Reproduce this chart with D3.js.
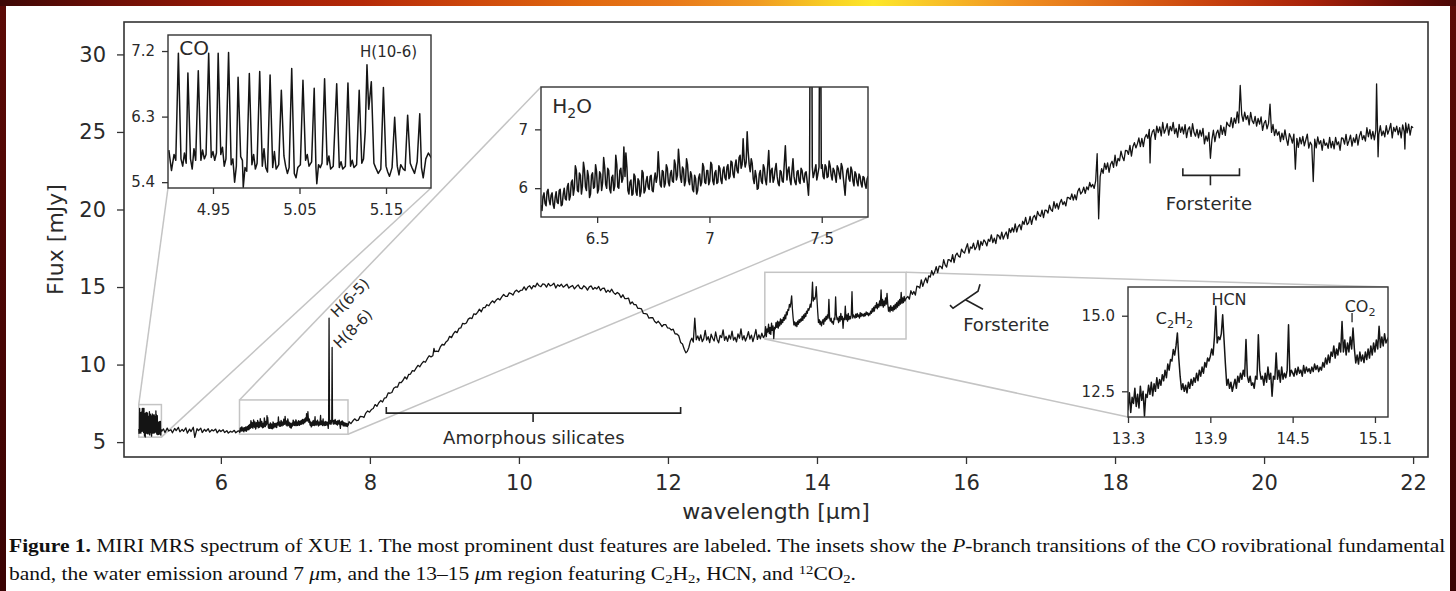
<!DOCTYPE html>
<html><head><meta charset="utf-8">
<script src="https://cdn.jsdelivr.net/npm/d3@7"></script>
<style>body{margin:0;background:#fff;}svg{display:block;}</style>
</head><body>
<svg id="chart" width="1456" height="591"></svg>
<script>
// ---------------- DATA ----------------
// spectrum pieces: [wavelength (um), flux (mJy)]
const coBand = [
[4.899,5.84],[4.902,5.56],[4.905,5.78],[4.907,5.70],[4.910,7.17],[4.913,5.72],[4.915,5.62],[4.917,5.80],[4.919,5.66],[4.921,6.90],
[4.924,5.72],[4.926,5.58],[4.928,5.86],[4.930,5.70],[4.933,6.93],[4.936,5.70],[4.938,5.84],[4.940,5.72],[4.942,5.78],[4.945,7.17],
[4.948,5.74],[4.950,5.82],[4.952,5.70],[4.954,5.80],[4.956,7.17],[4.959,5.78],[4.961,5.88],[4.963,5.62],[4.965,5.72],[4.968,7.18],
[4.971,5.64],[4.973,5.72],[4.975,5.40],[4.977,5.62],[4.979,6.84],[4.982,5.75],[4.984,5.70],[4.985,5.33],[4.987,5.60],[4.989,5.55],
[4.992,6.89],[4.995,5.64],[4.997,5.78],[4.999,5.58],[5.001,5.66],[5.004,6.92],[5.007,5.62],[5.009,5.86],[5.011,5.60],[5.013,5.54],
[5.016,6.87],[5.019,5.60],[5.021,5.82],[5.023,5.58],[5.026,5.64],[5.029,6.66],[5.032,5.76],[5.034,5.62],[5.036,5.52],[5.038,5.60],
[5.041,6.96],[5.044,5.52],[5.046,5.46],[5.048,5.60],[5.051,5.64],[5.054,6.80],[5.057,5.70],[5.059,5.78],[5.061,5.62],[5.064,5.68],
[5.067,6.69],[5.069,5.60],[5.070,5.38],[5.072,5.64],[5.074,5.60],[5.076,5.66],[5.079,6.82],[5.082,5.64],[5.084,5.76],[5.086,5.58],
[5.089,5.62],[5.093,6.75],[5.096,5.60],[5.098,5.68],[5.100,5.58],[5.103,5.62],[5.106,6.76],[5.109,5.62],[5.111,5.70],[5.113,5.60],
[5.116,5.64],[5.119,6.66],[5.122,5.66],[5.124,5.72],[5.126,6.10],[5.128,7.01],[5.130,6.40],[5.133,6.78],[5.136,5.66],[5.138,5.60],
[5.141,5.52],[5.144,5.58],[5.147,6.70],[5.150,5.62],[5.152,5.54],[5.154,5.48],[5.157,5.60],[5.160,6.29],[5.163,5.62],[5.165,5.50],
[5.167,5.64],[5.170,5.58],[5.172,5.56],[5.175,6.32],[5.178,5.66],[5.180,5.60],[5.183,5.52],[5.186,5.68],[5.189,6.34],[5.191,5.60],
[5.193,5.46],[5.196,5.72],[5.199,5.80],[5.202,5.74]];

const shortContinuum = [
[5.205,5.70],[5.23,5.85],[5.25,5.62],[5.28,5.90],[5.30,5.72],[5.33,5.80],[5.35,5.60],[5.38,5.88],[5.40,5.74],[5.43,5.95],
[5.45,5.66],[5.48,5.82],[5.50,5.70],[5.53,5.92],[5.55,5.58],[5.58,5.84],[5.60,5.68],[5.63,5.96],[5.65,5.30],[5.68,5.86],
[5.70,5.74],[5.73,5.90],[5.75,5.62],[5.78,5.82],[5.80,5.70],[5.83,5.86],[5.85,5.64],[5.88,5.80],[5.90,5.72],[5.93,5.84],
[5.95,5.60],[5.98,5.78],[6.00,5.68],[6.03,5.80],[6.05,5.62],[6.08,5.74],[6.10,5.58],[6.13,5.70],[6.15,5.64],[6.18,5.76],
[6.20,5.60],[6.23,5.72]];

const waterBand = [
[6.250,5.70],[6.259,5.86],[6.268,5.74],[6.277,5.94],[6.286,5.80],[6.295,5.88],[6.304,5.72],[6.313,5.84],[6.322,5.76],[6.331,5.96],
[6.340,5.70],[6.349,5.90],[6.358,5.82],[6.367,6.02],[6.376,5.80],[6.385,6.10],[6.394,5.88],[6.403,6.38],[6.412,5.96],[6.421,6.26],
[6.430,5.90],[6.439,6.44],[6.448,6.02],[6.457,6.30],[6.466,5.84],[6.475,6.22],[6.484,6.00],[6.493,6.40],[6.502,5.92],[6.511,6.28],
[6.520,5.96],[6.529,6.52],[6.538,6.06],[6.547,6.34],[6.556,5.98],[6.565,6.18],[6.574,5.96],[6.583,6.56],[6.592,6.02],[6.601,6.30],
[6.610,6.10],[6.619,6.70],[6.624,6.20],[6.628,6.60],[6.637,5.96],[6.646,6.10],[6.655,5.88],[6.664,6.24],[6.673,5.94],[6.682,6.16],
[6.691,5.86],[6.700,6.30],[6.709,5.92],[6.718,6.12],[6.727,6.02],[6.736,6.20],[6.745,5.96],[6.754,6.14],[6.763,6.10],[6.772,6.62],
[6.781,6.06],[6.790,6.30],[6.799,6.02],[6.808,6.40],[6.817,6.10],[6.826,6.24],[6.835,6.12],[6.844,6.48],[6.853,6.14],[6.862,6.66],
[6.871,6.18],[6.880,6.36],[6.889,6.04],[6.898,6.50],[6.907,6.12],[6.916,6.28],[6.925,5.98],[6.934,6.22],[6.943,5.90],[6.952,6.18],
[6.961,6.04],[6.970,6.42],[6.979,6.10],[6.988,6.30],[6.997,6.06],[7.006,6.44],[7.015,6.12],[7.024,6.26],[7.033,6.08],[7.042,6.38],
[7.051,6.14],[7.060,6.30],[7.069,6.18],[7.078,6.36],[7.087,6.16],[7.096,6.46],[7.105,6.24],[7.114,6.38],[7.123,6.30],[7.132,6.52],
[7.141,6.34],[7.150,6.84],[7.159,6.36],[7.168,6.96],[7.177,6.40],[7.186,6.50],[7.195,6.16],[7.204,6.30],[7.213,5.98],[7.222,6.24],
[7.231,6.12],[7.240,6.40],[7.249,6.14],[7.258,6.30],[7.264,6.64],[7.270,6.10],[7.279,6.34],[7.288,6.16],[7.297,6.42],[7.306,6.08],
[7.315,6.30],[7.324,6.12],[7.333,6.40],[7.338,6.72],[7.345,6.14],[7.354,6.36],[7.363,6.06],[7.372,6.50],[7.381,6.10],[7.390,6.28],
[7.399,6.12],[7.408,6.34],[7.417,6.16],[7.426,6.26],[7.435,6.12],[7.441,5.88],[7.446,6.30],[7.452,13.00],[7.458,6.36],[7.466,6.24],
[7.474,6.40],[7.482,6.22],[7.488,6.36],[7.493,11.10],[7.498,6.34],[7.506,6.20],[7.515,6.40],[7.524,6.18],[7.533,6.46],[7.542,6.22],
[7.551,6.34],[7.560,6.20],[7.569,6.38],[7.578,6.24],[7.587,6.42],[7.596,6.18],[7.604,5.88],[7.612,6.30],[7.621,6.16],[7.630,6.36],
[7.639,6.12],[7.648,6.28],[7.657,6.10],[7.666,6.24],[7.675,6.08],[7.684,6.20],[7.693,6.06],[7.702,6.16],[7.711,6.10]];

const waterFine = [
[6.2545,5.62],[6.2635,5.92],[6.2725,5.70],[6.2815,5.98],[6.2905,5.72],[6.2995,5.92],[6.3085,5.66],[6.3175,5.94],[6.3265,5.74],[6.3355,5.98],
[6.3445,5.72],[6.3535,6.00],[6.3625,5.80],[6.3715,6.08],[6.3805,5.86],[6.3895,6.14],[6.3985,6.00],[6.4075,6.30],[6.4165,5.94],[6.4255,6.22],
[6.4345,6.04],[6.4435,6.32],[6.4525,5.96],[6.4615,6.20],[6.4705,5.90],[6.4795,6.26],[6.4885,6.02],[6.4975,6.28],[6.5065,5.98],[6.5155,6.24],
[6.5245,6.10],[6.5335,6.36],[6.5425,6.00],[6.5515,6.30],[6.5605,5.92],[6.5695,6.22],[6.5785,6.04],[6.5875,6.40],[6.5965,6.00],[6.6055,6.34],
[6.6145,6.16],[6.6325,6.36],[6.6415,5.90],[6.6505,6.14],[6.6595,5.90],[6.6685,6.20],[6.6775,5.88],[6.6865,6.12],[6.6955,5.94],[6.7045,6.26],
[6.7135,5.96],[6.7225,6.20],[6.7315,5.98],[6.7405,6.22],[6.7495,5.94],[6.7585,6.26],[6.7675,6.20],[6.7765,6.30],[6.7855,6.02],[6.7945,6.28],
[6.8035,6.08],[6.8125,6.34],[6.8215,6.04],[6.8305,6.30],[6.8395,6.10],[6.8485,6.40],[6.8575,6.22],[6.8665,6.44],[6.8755,6.10],[6.8845,6.32],
[6.8935,6.12],[6.9025,6.40],[6.9115,6.06],[6.9205,6.22],[6.9295,5.94],[6.9385,6.16],[6.9475,5.96],[6.9565,6.24],[6.9655,6.10],[6.9745,6.36],
[6.9835,6.08],[6.9925,6.30],[7.0015,6.12],[7.0105,6.40],[7.0195,6.06],[7.0285,6.30],[7.0375,6.10],[7.0465,6.34],[7.0555,6.08],[7.0645,6.36],
[7.0735,6.14],[7.0825,6.40],[7.0915,6.20],[7.1005,6.44],[7.1095,6.18],[7.1185,6.48],[7.1275,6.26],[7.1365,6.56],[7.1455,6.40],[7.1545,6.50],
[7.1635,6.44],[7.1725,6.62],[7.1815,6.28],[7.1905,6.42],[7.1995,6.08],[7.2085,6.20],[7.2175,6.00],[7.2265,6.30],[7.2355,6.08],[7.2445,6.34],
[7.2535,6.06],[7.2745,6.30],[7.2835,6.10],[7.2925,6.32],[7.3015,6.20],[7.3105,6.04],[7.3195,6.28],[7.3285,6.10],[7.3495,6.30],[7.3585,6.14],
[7.3675,6.30],[7.3765,6.20],[7.3855,6.06],[7.3945,6.30],[7.4035,6.08],[7.4125,6.30],[7.4215,6.10],[7.4305,6.28],[7.4620,6.18],[7.4700,6.32],
[7.4780,6.14],[7.5020,6.40],[7.5105,6.16],[7.5195,6.36],[7.5285,6.20],[7.5375,6.38],[7.5465,6.14],[7.5555,6.30],[7.5645,6.10],[7.5735,6.34],
[7.5825,6.16],[7.5915,6.36],[7.6080,6.14],[7.6165,6.34],[7.6255,6.12],[7.6345,6.30],[7.6435,6.04],[7.6525,6.24],[7.6615,6.04],[7.6705,6.20],
[7.6795,6.02],[7.6885,6.18],[7.6975,6.00],[7.7065,6.20]];

const silicateBand = [
[7.720,6.32],[7.745,6.19],[7.770,6.36],[7.795,6.50],[7.820,6.39],[7.845,6.42],[7.870,6.66],[7.895,6.65],[7.920,6.59],[7.945,6.87],
[7.970,7.01],[7.995,6.93],[8.020,7.10],[8.045,7.17],[8.070,7.42],[8.095,7.31],[8.120,7.54],[8.145,7.68],[8.170,7.59],[8.195,7.84],
[8.220,7.87],[8.245,8.17],[8.270,8.15],[8.295,8.20],[8.320,8.47],[8.345,8.56],[8.370,8.54],[8.395,8.85],[8.420,8.83],[8.445,8.99],
[8.470,9.21],[8.495,9.07],[8.520,9.36],[8.545,9.39],[8.570,9.61],[8.595,9.57],[8.620,9.77],[8.645,9.95],[8.670,9.86],[8.695,10.06],
[8.720,10.20],[8.745,10.15],[8.770,10.38],[8.795,10.57],[8.820,10.50],[8.845,10.57],[8.860,11.05],[8.870,10.84],[8.895,10.87],[8.920,10.84],
[8.945,11.14],[8.970,11.31],[8.995,11.26],[9.020,11.45],[9.045,11.55],[9.070,11.82],[9.095,11.74],[9.120,11.98],[9.145,12.14],[9.170,12.06],
[9.195,12.33],[9.220,12.36],[9.245,12.66],[9.270,12.63],[9.295,12.68],[9.320,12.93],[9.345,13.01],[9.370,12.97],[9.395,13.27],[9.420,13.23],
[9.445,13.37],[9.470,13.57],[9.495,13.40],[9.520,13.67],[9.545,13.67],[9.570,13.86],[9.595,13.79],[9.620,13.97],[9.645,14.11],[9.670,13.99],
[9.695,14.16],[9.720,14.26],[9.745,14.17],[9.770,14.36],[9.795,14.52],[9.820,14.40],[9.845,14.40],[9.870,14.62],[9.895,14.58],[9.920,14.48],
[9.945,14.71],[9.970,14.80],[9.995,14.67],[10.020,14.78],[10.045,14.80],[10.070,15.01],[10.095,14.80],[10.120,15.00],[10.145,15.08],[10.170,14.88],
[10.195,15.09],[10.220,15.01],[10.245,15.25],[10.270,15.08],[10.295,15.02],[10.320,15.20],[10.345,15.17],[10.370,14.99],[10.395,15.23],[10.420,15.07],
[10.445,15.13],[10.470,15.25],[10.495,14.94],[10.520,15.15],[10.545,15.05],[10.570,15.18],[10.595,14.99],[10.620,15.09],[10.645,15.18],[10.670,14.93],
[10.695,15.03],[10.720,15.10],[10.745,14.88],[10.770,15.03],[10.795,15.14],[10.820,14.93],[10.845,14.88],[10.870,15.08],[10.895,14.99],[10.920,14.80],
[10.945,15.01],[10.970,15.07],[10.995,14.85],[11.020,14.97],[11.045,14.88],[11.070,15.04],[11.095,14.77],[11.120,14.91],[11.145,14.93],[11.170,14.66],
[11.195,14.80],[11.220,14.67],[11.245,14.86],[11.270,14.64],[11.295,14.53],[11.320,14.65],[11.345,14.56],[11.370,14.32],[11.395,14.50],[11.420,14.26],
[11.445,14.25],[11.470,14.29],[11.495,13.91],[11.520,14.04],[11.545,13.86],[11.570,13.87],[11.595,13.63],[11.620,13.63],[11.645,13.59],[11.670,13.30],
[11.695,13.28],[11.720,13.25],[11.745,12.99],[11.770,13.02],[11.795,13.03],[11.820,12.79],[11.845,12.68],[11.870,12.79],[11.895,12.64],[11.920,12.45],
[11.945,12.58],[11.970,12.58],[11.995,12.36],[12.020,12.35],[12.045,12.23],[12.070,12.28],[12.095,11.98],[12.120,11.97],[12.145,11.86],[12.170,11.43],
[12.195,11.33],[12.220,10.97],[12.240,10.76],[12.260,10.85],[12.280,11.10],[12.300,11.50]];

const dipToMolecular = [
[12.32,11.70],[12.34,11.45],[12.36,13.00],[12.38,11.60],[12.40,11.85],[12.42,11.55],[12.44,11.92],[12.46,11.48],[12.48,11.66],[12.50,12.20],
[12.52,11.58],[12.54,11.80],[12.56,11.42],[12.58,11.96],[12.60,11.70],[12.62,11.52],[12.64,12.10],[12.66,11.62],[12.68,11.40],[12.70,11.88],
[12.72,11.74],[12.74,12.24],[12.76,11.56],[12.78,11.82],[12.80,11.50],[12.82,11.90],[12.84,11.64],[12.86,12.16],[12.88,11.58],[12.90,11.76],
[12.92,11.46],[12.94,11.98],[12.96,11.70],[12.98,12.30],[13.00,11.60],[13.02,11.86],[13.04,11.52],[13.06,11.78],[13.08,12.12],[13.10,11.64],
[13.12,11.90],[13.14,11.48],[13.16,11.84],[13.18,12.26],[13.20,11.62],[13.22,11.92],[13.24,11.66],[13.26,12.02],[13.28,11.74]];

const molecularBand = [
[13.30,11.90],[13.31,12.45],[13.32,11.80],[13.33,12.30],[13.34,12.10],[13.35,12.60],[13.36,12.00],[13.37,12.40],[13.38,11.95],[13.39,12.67],
[13.40,12.20],[13.41,12.50],[13.42,11.68],[13.43,12.40],[13.44,12.30],[13.45,12.70],[13.46,12.40],[13.47,12.80],[13.48,12.35],[13.49,12.75],
[13.50,12.50],[13.51,12.95],[13.52,12.60],[13.53,12.89],[13.54,12.70],[13.55,13.05],[13.56,12.85],[13.57,13.20],[13.58,12.95],[13.59,13.40],
[13.60,13.20],[13.61,13.55],[13.62,13.50],[13.63,13.88],[13.64,13.70],[13.65,14.00],[13.66,14.43],[13.67,13.60],[13.68,13.00],[13.69,12.56],
[13.70,12.75],[13.71,12.50],[13.72,12.70],[13.73,12.45],[13.74,12.80],[13.75,12.60],[13.76,12.90],[13.77,12.70],[13.78,12.95],[13.79,12.80],
[13.80,13.10],[13.81,12.85],[13.82,13.20],[13.83,13.00],[13.84,13.30],[13.85,13.10],[13.86,13.45],[13.87,13.30],[13.88,13.60],[13.89,13.50],
[13.90,13.66],[13.91,13.90],[13.92,13.70],[13.93,14.30],[13.94,15.31],[13.95,14.10],[13.96,14.30],[13.97,14.21],[13.98,14.40],[13.99,15.03],
[14.00,14.20],[14.01,13.40],[14.02,12.70],[14.03,12.90],[14.04,12.60],[14.05,12.80],[14.06,12.50],[14.07,12.70],[14.08,12.90],[14.09,12.60],
[14.10,13.00],[14.11,12.80],[14.12,13.10],[14.13,12.90],[14.14,13.20],[14.15,13.00],[14.16,14.21],[14.17,13.00],[14.18,12.80],[14.19,13.00],
[14.20,12.70],[14.21,12.78],[14.22,12.60],[14.23,13.00],[14.24,12.90],[14.25,14.37],[14.26,13.20],[14.27,12.90],[14.28,13.00],[14.29,12.70],
[14.30,13.10],[14.31,12.80],[14.32,13.30],[14.33,12.90],[14.34,13.10],[14.35,12.34],[14.36,13.00],[14.37,12.90],[14.38,13.77],[14.39,12.90],
[14.40,13.20],[14.41,12.80],[14.42,13.30],[14.43,12.90],[14.44,13.10],[14.45,12.95],[14.46,13.20],[14.47,14.70],[14.48,13.00],[14.49,13.20],
[14.50,13.11],[14.51,13.00],[14.52,13.25],[14.53,13.05],[14.54,13.30],[14.55,13.10],[14.56,13.20],[14.57,13.00],[14.58,13.35],[14.59,13.10],
[14.60,13.30],[14.61,13.15],[14.62,13.25],[14.63,13.10],[14.64,13.30],[14.65,13.15],[14.66,13.40],[14.67,13.22],[14.68,13.35],[14.69,13.15],
[14.70,13.30],[14.71,13.20],[14.72,13.45],[14.73,13.30],[14.74,13.60],[14.75,13.40],[14.76,13.70],[14.77,13.45],[14.78,13.80],[14.79,13.66],
[14.80,14.00],[14.81,13.60],[14.82,13.90],[14.83,13.70],[14.84,14.10],[14.85,13.80],[14.86,14.81],[14.87,13.80],[14.88,14.20],[14.89,13.70],
[14.90,14.10],[14.91,13.80],[14.92,14.30],[14.93,13.90],[14.94,14.59],[14.95,13.90],[14.96,13.44],[14.97,13.70],[14.98,13.40],[14.99,13.80],
[15.00,13.50],[15.01,13.70],[15.02,13.45],[15.03,13.80],[15.04,13.55],[15.05,13.90],[15.06,13.60],[15.07,14.00],[15.08,13.70],[15.09,14.10],
[15.10,13.80],[15.11,14.20],[15.12,13.90],[15.13,14.65],[15.14,13.95],[15.15,14.30],[15.16,14.00],[15.17,14.40],[15.18,14.10],[15.19,14.21],
[15.20,14.30]];

const redBand = [
[15.22,14.39],[15.24,14.22],[15.26,14.76],[15.28,14.53],[15.30,14.71],[15.32,14.48],[15.34,15.05],[15.36,15.03],[15.38,14.94],[15.40,15.46],
[15.42,15.04],[15.44,15.35],[15.46,15.59],[15.48,15.27],[15.50,15.72],[15.52,15.64],[15.54,16.06],[15.56,15.77],[15.58,15.98],[15.60,16.31],
[15.62,15.93],[15.64,16.35],[15.66,16.33],[15.68,16.18],[15.70,16.76],[15.72,16.43],[15.74,16.29],[15.76,16.77],[15.78,16.75],[15.80,16.63],
[15.82,17.09],[15.84,16.58],[15.86,17.04],[15.88,17.19],[15.90,16.99],[15.92,16.93],[15.94,17.45],[15.96,17.27],[15.98,17.19],[16.00,17.52],
[16.02,17.79],[16.04,17.19],[16.06,17.58],[16.08,17.50],[16.10,17.83],[16.12,17.41],[16.14,17.58],[16.16,18.01],[16.18,17.40],[16.20,17.94],
[16.22,17.69],[16.24,18.04],[16.26,17.91],[16.28,17.65],[16.30,18.08],[16.32,17.94],[16.34,18.36],[16.36,17.87],[16.38,18.15],[16.40,17.80],
[16.42,18.37],[16.44,18.30],[16.46,18.09],[16.48,18.54],[16.50,18.09],[16.52,18.36],[16.54,18.55],[16.56,18.12],[16.58,18.77],[16.60,18.51],
[16.62,18.82],[16.64,18.55],[16.66,19.07],[16.68,18.55],[16.70,18.90],[16.72,19.03],[16.74,18.69],[16.76,19.24],[16.78,19.04],[16.80,19.49],
[16.82,19.02],[16.84,19.14],[16.86,19.56],[16.88,19.04],[16.90,19.49],[16.92,19.62],[16.94,19.32],[16.96,19.87],[16.98,19.64],[17.00,19.56],
[17.02,19.96],[17.04,19.48],[17.06,19.96],[17.08,19.94],[17.10,19.77],[17.12,20.28],[17.14,19.98],[17.16,19.89],[17.18,20.50],[17.20,20.09],
[17.22,20.39],[17.24,20.02],[17.26,20.42],[17.28,20.65],[17.30,20.31],[17.32,20.50],[17.34,20.23],[17.36,20.78],[17.38,20.76],[17.40,20.66],
[17.42,21.01],[17.44,20.61],[17.46,20.95],[17.48,20.62],[17.50,21.18],[17.52,21.37],[17.54,21.00],[17.56,21.13],[17.58,21.44],[17.60,21.04],
[17.62,21.46],[17.64,21.27],[17.66,21.74],[17.68,21.45],[17.70,21.62],[17.72,21.36],[17.74,21.84],[17.76,23.60],[17.78,19.40],[17.80,22.10],
[17.82,22.64],[17.84,22.33],[17.86,22.98],[17.88,22.59],[17.90,23.01],[17.92,22.40],[17.94,22.92],[17.96,23.11],[17.98,22.72],[18.00,23.50],
[18.02,22.81],[18.04,23.29],[18.06,23.14],[18.08,23.76],[18.10,23.38],[18.12,23.15],[18.14,23.81],[18.16,23.80],[18.18,23.55],[18.20,24.13],
[18.22,23.44],[18.24,24.05],[18.26,24.31],[18.28,23.97],[18.30,24.23],[18.32,24.61],[18.34,24.05],[18.36,24.58],[18.38,24.06],[18.40,24.63],
[18.42,24.84],[18.44,24.59],[18.46,25.17],[18.47,23.00],[18.48,24.60],[18.50,25.00],[18.52,25.15],[18.54,24.52],[18.56,25.38],[18.58,24.96],
[18.60,25.33],[18.62,24.75],[18.64,25.61],[18.66,24.92],[18.68,25.17],[18.70,25.53],[18.72,24.80],[18.74,25.36],[18.76,25.07],[18.78,25.62],
[18.80,24.89],[18.82,25.23],[18.84,24.66],[18.86,25.49],[18.88,24.98],[18.90,25.32],[18.92,24.87],[18.94,25.47],[18.96,24.63],[18.98,25.17],
[19.00,25.33],[19.02,24.71],[19.04,25.53],[19.06,24.96],[19.08,24.73],[19.10,25.17],[19.12,24.62],[19.14,25.11],[19.16,24.73],[19.18,25.23],
[19.20,24.23],[19.22,24.74],[19.24,24.41],[19.26,24.97],[19.28,23.30],[19.30,24.51],[19.32,25.11],[19.34,24.37],[19.36,24.91],[19.38,25.12],
[19.40,24.62],[19.42,25.42],[19.44,24.84],[19.46,25.31],[19.48,24.78],[19.50,25.63],[19.52,25.44],[19.54,25.35],[19.56,25.92],[19.58,25.27],
[19.60,25.89],[19.62,25.56],[19.64,26.30],[19.66,25.59],[19.68,28.00],[19.70,26.11],[19.72,25.69],[19.74,26.27],[19.76,25.80],[19.78,26.05],
[19.80,25.46],[19.82,26.26],[19.84,25.73],[19.86,25.54],[19.88,26.01],[19.90,25.37],[19.92,25.88],[19.94,25.51],[19.96,25.97],[19.98,25.10],
[20.00,25.56],[20.02,25.74],[20.04,25.20],[20.06,25.55],[20.08,26.80],[20.10,24.97],[20.12,25.48],[20.14,24.77],[20.16,25.17],[20.18,24.79],
[20.20,25.02],[20.22,24.38],[20.24,24.92],[20.26,24.50],[20.28,25.13],[20.30,24.56],[20.32,24.14],[20.34,24.89],[20.36,24.65],[20.38,24.28],
[20.40,24.86],[20.42,22.60],[20.44,24.59],[20.46,24.01],[20.48,24.65],[20.50,24.23],[20.52,24.72],[20.54,24.10],[20.56,24.48],[20.58,24.86],
[20.60,23.96],[20.62,24.34],[20.64,24.16],[20.66,21.80],[20.68,24.53],[20.70,23.97],[20.72,24.68],[20.74,24.22],[20.76,24.44],[20.78,23.82],
[20.80,24.53],[20.82,24.13],[20.84,24.29],[20.86,23.94],[20.88,24.65],[20.90,23.98],[20.92,24.39],[20.94,23.91],[20.96,24.65],[20.98,24.17],
[21.00,24.36],[21.02,23.82],[21.04,24.62],[21.06,24.58],[21.08,24.21],[21.10,24.84],[21.12,24.14],[21.14,24.44],[21.16,24.79],[21.18,24.09],
[21.20,24.61],[21.22,24.31],[21.24,24.84],[21.26,24.15],[21.28,24.73],[21.30,25.04],[21.32,24.51],[21.34,24.77],[21.36,24.41],[21.38,25.27],
[21.40,24.69],[21.42,25.15],[21.44,24.56],[21.46,25.03],[21.48,24.49],[21.50,25.12],[21.51,28.10],[21.53,23.40],[21.54,24.83],[21.56,25.40],
[21.58,24.76],[21.60,25.06],[21.62,24.68],[21.64,25.41],[21.66,24.86],[21.68,25.15],[21.70,25.55],[21.72,24.62],[21.74,25.29],[21.76,25.02],
[21.78,25.37],[21.80,24.82],[21.82,25.28],[21.84,24.62],[21.86,25.46],[21.88,25.03],[21.89,23.90],[21.90,25.59],[21.92,24.94],[21.94,25.50],
[21.96,24.79],[21.98,25.36],[22.00,25.26]];

// axes
const mainXDomain = [4.70, 22.20];
const mainYDomain = [4.04, 32.09];
const mainXTicks = [6, 8, 10, 12, 14, 16, 18, 20, 22];
const mainXTickLabels = ["6", "8", "10", "12", "14", "16", "18", "20", "22"];
const mainYTicks = [5, 10, 15, 20, 25, 30];
const mainYTickLabels = ["5", "10", "15", "20", "25", "30"];
const xAxisTitle = "wavelength [\u03BCm]";
const yAxisTitle = "Flux [mJy]";

// insets: data windows and tick labels
const coXDomain = [4.898, 5.202], coYDomain = [5.32, 7.42];
const coXTicks = [4.95, 5.05, 5.15], coXTickLabels = ["4.95", "5.05", "5.15"];
const coYTicks = [5.4, 6.3, 7.2], coYTickLabels = ["5.4", "6.3", "7.2"];
const waterXDomain = [6.25, 7.706], waterYDomain = [5.51, 7.72];
const waterXTicks = [6.5, 7, 7.5], waterXTickLabels = ["6.5", "7", "7.5"];
const waterYTicks = [6, 7], waterYTickLabels = ["6", "7"];
const molXDomain = [13.3, 15.195], molYDomain = [11.65, 15.95];
const molXTicks = [13.3, 13.9, 14.5, 15.1], molXTickLabels = ["13.3", "13.9", "14.5", "15.1"];
const molYTicks = [12.5, 15.0], molYTickLabels = ["12.5", "15.0"];

// annotations (data coordinates)
const amorphousBracket = {from: 8.22, to: 12.17, level: 6.87, endTop: 7.26, mid: 10.19, midBottom: 6.29};
const amorphousLabel = {text: "Amorphous silicates", w: 10.20, f: 4.87};
const forsteriteBracket = {from: 18.91, to: 19.67, level: 22.2, endTop: 22.66, mid: 19.28, midBottom: 21.56};
const forsteriteLabel = {text: "Forsterite", w: 19.26, f: 19.95};
const forsteriteTiltedBracket = [[15.785, 13.83], [15.826, 13.63], [16.161, 14.73], [16.188, 15.18]];
const forsteriteTiltedStem = [[15.993, 14.18], [16.228, 13.57]];
const forsteriteLabel2 = {text: "Forsterite", w: 16.54, f: 12.15};
const hLineLabels = [{text: "H(6-5)", w: 7.557, f: 12.99}, {text: "H(8-6)", w: 7.597, f: 10.99}];
const coInsetLabels = [{text: "CO", w: 4.911, f: 7.145, size: 20}, {text: "H(10-6)", w: 5.12, f: 7.118, size: 15}];
const waterInsetLabel = {w: 6.30, f: 7.285};
const molInsetLabels = {c2h2: {w: 13.502, f: 14.736}, hcn: {w: 13.908, f: 15.35}, co2: {w: 14.879, f: 15.13}, co2Tick: {w: 14.933, f0: 15.09, f1: 14.78}};

const captionLine1 = ["Figure 1.", " MIRI MRS spectrum of XUE 1. The most prominent dust features are labeled. The insets show the ", "P", "-branch transitions of the CO rovibrational fundamental"];
const captionLine2 = ["band, the water emission around 7 ", "\u03BC", "m, and the 13\u201315 ", "\u03BC", "m region featuring C", "2", "H", "2", ", HCN, and ", "12", "CO", "2", "."];

const bandStops = [[0,"#3e0806"],[0.07,"#6a0e06"],[0.16,"#9a1a06"],[0.25,"#b52a08"],[0.33,"#cf4a0c"],[0.40,"#e0680f"],[0.46,"#e8781a"],[0.52,"#f09a22"],[0.57,"#f8d024"],[0.60,"#fde82a"],[0.64,"#f8c428"],[0.70,"#f09020"],[0.76,"#e06c18"],[0.83,"#c8420e"],[0.90,"#a8220a"],[0.96,"#6e0e06"],[1,"#4a0806"]];

// ---------------- DRAW ----------------
const FONT = "'DejaVu Sans', sans-serif";
const TXT = "#2a2a2a";
const W = 1456, H = 591;
const svg = d3.select("#chart");
const defs = svg.append("defs");

const spectrum = [].concat(coBand, shortContinuum, waterBand, waterFine, silicateBand, dipToMolecular, molecularBand, redBand)
  .sort((a, b) => a[0] - b[0]);

// background frame
svg.append("rect").attr("width", W).attr("height", H).attr("fill", "#fff");
const tg = defs.append("linearGradient").attr("id", "topband").attr("x1", 0).attr("x2", 1).attr("y1", 0).attr("y2", 0);
bandStops.forEach(s => tg.append("stop").attr("offset", s[0]).attr("stop-color", s[1]));
const sg = defs.append("linearGradient").attr("id", "sideband").attr("x1", 0).attr("x2", 0).attr("y1", 0).attr("y2", 1);
sg.append("stop").attr("offset", 0).attr("stop-color", "#5c0a06");
sg.append("stop").attr("offset", 1).attr("stop-color", "#3a0303");
svg.append("rect").attr("x", 0).attr("y", 0).attr("width", 6).attr("height", H).attr("fill", "url(#sideband)");
svg.append("rect").attr("x", W - 6).attr("y", 0).attr("width", 6).attr("height", H).attr("fill", "url(#sideband)");
svg.append("rect").attr("x", 0).attr("y", 0).attr("width", W).attr("height", 6).attr("fill", "url(#topband)");

// main scales
const M = {l: 124, r: 1428, t: 22, b: 457};
const x = d3.scaleLinear().domain(mainXDomain).range([M.l, M.r]);
const y = d3.scaleLinear().domain(mainYDomain).range([M.b, M.t]);

const insetCfgs = [
  {id: "co", box: [168, 431, 35, 188], xd: coXDomain, yd: coYDomain, xt: coXTicks, xl: coXTickLabels, yt: coYTicks, yl: coYTickLabels,
   links: [["x0", "y1", "x0", "y1"], ["x1", "y0", "x1", "y1"]]},
  {id: "water", box: [541, 868, 87, 217], xd: waterXDomain, yd: waterYDomain, xt: waterXTicks, xl: waterXTickLabels, yt: waterYTicks, yl: waterYTickLabels,
   links: [["x0", "y1", "x0", "y0"], ["x1", "y0", "x1", "y1"]]},
  {id: "mol", box: [1128, 1388, 287, 417], xd: molXDomain, yd: molYDomain, xt: molXTicks, xl: molXTickLabels, yt: molYTicks, yl: molYTickLabels,
   links: [["x1", "y1", "x1", "y0"], ["x0", "y0", "x0", "y1"]]}
];

// connectors + indicator boxes
const GREY = "#c4c4c4";
insetCfgs.forEach(c => {
  const bx = {x0: x(c.xd[0]), x1: x(c.xd[1]), y0: y(c.yd[0]), y1: y(c.yd[1])};
  const ib = {x0: c.box[0], x1: c.box[1], y0: c.box[2], y1: c.box[3]};
  c.links.forEach(l => {
    svg.append("line").attr("x1", bx[l[0]]).attr("y1", bx[l[1]]).attr("x2", ib[l[2]]).attr("y2", ib[l[3]])
      .attr("stroke", GREY).attr("stroke-width", 1.5);
  });
  svg.append("rect").attr("x", bx.x0).attr("y", bx.y1).attr("width", bx.x1 - bx.x0).attr("height", bx.y0 - bx.y1)
    .attr("fill", "none").attr("stroke", GREY).attr("stroke-width", 1.5);
});

// main spectrum
defs.append("clipPath").attr("id", "mainclip").append("rect").attr("x", M.l).attr("y", M.t).attr("width", M.r - M.l).attr("height", M.b - M.t);
const mainLine = d3.line().x(d => x(d[0])).y(d => y(d[1]));
svg.append("path").datum(spectrum).attr("d", mainLine).attr("fill", "none").attr("stroke", "#141414")
  .attr("stroke-width", 1.3).attr("stroke-linejoin", "round").attr("clip-path", "url(#mainclip)");

// annotations
const ann = svg.append("g").attr("stroke", "#222").attr("stroke-width", 1.6).attr("fill", "none");
function bracket(b) {
  ann.append("path").attr("d", d3.line()([[x(b.from), y(b.endTop)], [x(b.from), y(b.level)], [x(b.to), y(b.level)], [x(b.to), y(b.endTop)]]));
  ann.append("line").attr("x1", x(b.mid)).attr("x2", x(b.mid)).attr("y1", y(b.level)).attr("y2", y(b.midBottom));
}
bracket(amorphousBracket);
bracket(forsteriteBracket);
ann.append("path").attr("d", d3.line()(forsteriteTiltedBracket.map(p => [x(p[0]), y(p[1])])));
ann.append("path").attr("d", d3.line()(forsteriteTiltedStem.map(p => [x(p[0]), y(p[1])])));

function label(t, px, py, size, anchor) {
  return svg.append("text").attr("x", px).attr("y", py).attr("font-family", FONT).attr("font-size", size)
    .attr("fill", TXT).attr("text-anchor", anchor || "start").text(t);
}
label(amorphousLabel.text, x(amorphousLabel.w), y(amorphousLabel.f), 18, "middle");
label(forsteriteLabel.text, x(forsteriteLabel.w), y(forsteriteLabel.f), 18, "middle");
label(forsteriteLabel2.text, x(forsteriteLabel2.w), y(forsteriteLabel2.f), 18, "middle");
hLineLabels.forEach(h => {
  label(h.text, 0, 0, 15).attr("transform", `translate(${x(h.w)},${y(h.f)}) rotate(-45)`);
});

// main frame & axes
svg.append("rect").attr("x", M.l).attr("y", M.t).attr("width", M.r - M.l).attr("height", M.b - M.t)
  .attr("fill", "none").attr("stroke", "#333").attr("stroke-width", 1.6);
function styleAxis(g, size) {
  g.select(".domain").remove();
  g.selectAll(".tick line").attr("stroke", "#333").attr("stroke-width", 1.3);
  g.selectAll(".tick text").attr("font-size", size).attr("font-family", FONT).attr("fill", TXT);
}
const gx = svg.append("g").attr("transform", `translate(0,${M.b})`)
  .call(d3.axisBottom(x).tickValues(mainXTicks).tickSize(7).tickPadding(11).tickFormat((d, i) => mainXTickLabels[i]));
styleAxis(gx, 21);
const gy = svg.append("g").attr("transform", `translate(${M.l},0)`)
  .call(d3.axisLeft(y).tickValues(mainYTicks).tickSize(7).tickPadding(11).tickFormat((d, i) => mainYTickLabels[i]));
styleAxis(gy, 21);
label(xAxisTitle, (M.l + M.r) / 2, 519, 22, "middle");
label(yAxisTitle, 0, 0, 22, "middle").attr("transform", `translate(63,${(M.t + M.b) / 2}) rotate(-90)`);

// insets
function drawInset(c) {
  const [x0, x1, y0, y1] = c.box;
  const sx = d3.scaleLinear().domain(c.xd).range([x0, x1]);
  const sy = d3.scaleLinear().domain(c.yd).range([y1, y0]);
  const g = svg.append("g");
  g.append("rect").attr("x", x0).attr("y", y0).attr("width", x1 - x0).attr("height", y1 - y0).attr("fill", "#fff");
  defs.append("clipPath").attr("id", "clip-" + c.id).append("rect").attr("x", x0).attr("y", y0).attr("width", x1 - x0).attr("height", y1 - y0);
  const pts = spectrum.filter(d => d[0] >= c.xd[0] - 0.05 && d[0] <= c.xd[1] + 0.05);
  g.append("path").datum(pts).attr("d", d3.line().x(d => sx(d[0])).y(d => sy(d[1])))
    .attr("fill", "none").attr("stroke", "#151515").attr("stroke-width", 1.5).attr("stroke-linejoin", "round")
    .attr("clip-path", `url(#clip-${c.id})`);
  g.append("rect").attr("x", x0).attr("y", y0).attr("width", x1 - x0).attr("height", y1 - y0)
    .attr("fill", "none").attr("stroke", "#333").attr("stroke-width", 1.4);
  const ax = g.append("g").attr("transform", `translate(0,${y1})`)
    .call(d3.axisBottom(sx).tickValues(c.xt).tickSize(6).tickPadding(10).tickFormat((d, i) => c.xl[i]));
  styleAxis(ax, 15);
  const ay = g.append("g").attr("transform", `translate(${x0},0)`)
    .call(d3.axisLeft(sy).tickValues(c.yt).tickSize(6).tickPadding(7).tickFormat((d, i) => c.yl[i]));
  styleAxis(ay, 15);
  return {sx, sy, g};
}
const insCO = drawInset(insetCfgs[0]);
const insW = drawInset(insetCfgs[1]);
const insM = drawInset(insetCfgs[2]);

coInsetLabels.forEach(l => label(l.text, insCO.sx(l.w), insCO.sy(l.f), l.size));

function chem(parts, px, py, size) {
  const t = svg.append("text").attr("x", px).attr("y", py).attr("font-family", FONT).attr("font-size", size).attr("fill", TXT);
  parts.forEach(p => {
    const ts = t.append("tspan").text(p[0]);
    if (p[1] === "sub") ts.attr("font-size", size * 0.7).attr("dy", size * 0.25);
    if (p[1] === "up") ts.attr("dy", -size * 0.25);
  });
  return t;
}
chem([["H"], ["2", "sub"], ["O", "up"]], insW.sx(waterInsetLabel.w), insW.sy(waterInsetLabel.f), 20);
chem([["C"], ["2", "sub"], ["H", "up"], ["2", "sub"]], insM.sx(molInsetLabels.c2h2.w), insM.sy(molInsetLabels.c2h2.f), 16);
chem([["HCN"]], insM.sx(molInsetLabels.hcn.w), insM.sy(molInsetLabels.hcn.f), 16);
chem([["CO"], ["2", "sub"]], insM.sx(molInsetLabels.co2.w), insM.sy(molInsetLabels.co2.f), 16);
svg.append("line").attr("x1", insM.sx(molInsetLabels.co2Tick.w)).attr("x2", insM.sx(molInsetLabels.co2Tick.w))
  .attr("y1", insM.sy(molInsetLabels.co2Tick.f0)).attr("y2", insM.sy(molInsetLabels.co2Tick.f1))
  .attr("stroke", "#222").attr("stroke-width", 1.3);

// caption
const SERIF = "'Liberation Serif', 'Times New Roman', serif";
function captionLine(parts, styles, baseline) {
  const g = svg.append("g").attr("transform", `translate(9,${baseline})`);
  const t = g.append("text").attr("x", 0).attr("y", 0).attr("font-family", SERIF).attr("font-size", 19).attr("fill", "#111");
  parts.forEach((p, i) => {
    const ts = t.append("tspan").text(p);
    const s = styles[i];
    if (s === "b") ts.attr("font-weight", "bold");
    if (s === "i") ts.attr("font-style", "italic");
    if (s === "sub") ts.attr("font-size", 13).attr("dy", 3);
    if (s === "up") ts.attr("dy", -3);
    if (s === "sup") ts.attr("font-size", 13).attr("dy", -6);
    if (s === "supdown") ts.attr("dy", 6);
  });
  return {g, t};
}
const CAP1 = 552, CAP2 = 580;
const c1 = captionLine(captionLine1, ["b", "", "i", ""], CAP1);
const c2 = captionLine(captionLine2, ["", "i", "", "i", "", "sub", "up", "sub", "up", "sup", "supdown", "sub", "up"], CAP2);
const sxCap = 1437 / c1.t.node().getComputedTextLength();
c1.g.attr("transform", `translate(9,${CAP1}) scale(${sxCap},1)`);
c2.g.attr("transform", `translate(9,${CAP2}) scale(${sxCap},1)`);
</script>
</body></html>
